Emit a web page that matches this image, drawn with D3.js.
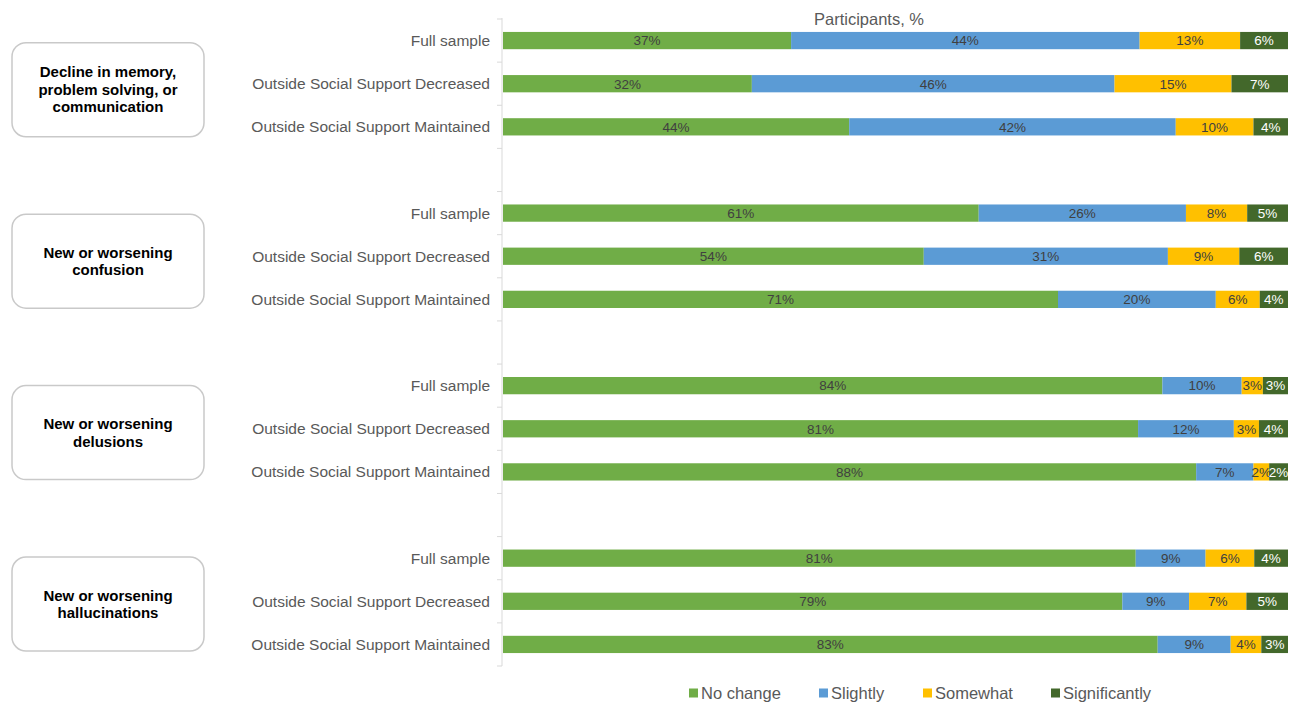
<!DOCTYPE html>
<html><head><meta charset="utf-8">
<script src="https://cdn.jsdelivr.net/npm/d3@7"></script>
<style>body{margin:0;background:#fff}svg{display:block;font-family:"Liberation Sans",Arial,sans-serif}</style>
</head><body>
<script>
const groupLabels = [
  ["Decline in memory,","problem solving, or","communication"],
  ["New or worsening","confusion"],
  ["New or worsening","delusions"],
  ["New or worsening","hallucinations"]
];
const subgroups = ["Full sample","Outside Social Support Decreased","Outside Social Support Maintained"];
const seriesNames = ["No change","Slightly","Somewhat","Significantly"];
const seriesColors = ["#70AD47","#5B9BD5","#FFC000","#43682B"];
// values per row: group order, then subgroup order
const noChange      = [36.7,31.7,44.1, 60.6,53.6,70.7, 84.0,80.9,88.3, 80.6,78.9,83.4];
const slightly      = [44.4,46.2,41.6, 26.4,31.1,20.1, 10.1,12.2, 7.3,  8.9, 8.5, 9.3];
const somewhat      = [12.8,14.9, 9.9,  7.8, 9.1, 5.6,  2.7, 3.2, 2.0,  6.2, 7.3, 3.9];
const significantly = [ 6.1, 7.2, 4.4,  5.2, 6.2, 3.6,  3.2, 3.7, 2.4,  4.3, 5.3, 3.4];
const axisTitle = "Participants, %";

const W=1297,H=704;
const svg=d3.select("body").append("svg").attr("width",W).attr("height",H);

// rows incl. blank spacer rows
const rows=[];
groupLabels.forEach((g,gi)=>{
  subgroups.forEach((s,si)=>rows.push({id:`r${gi}-${si}`,label:s,gi,idx:gi*3+si}));
  if(gi<groupLabels.length-1) rows.push({id:`blank${gi}`,label:"",gi,idx:-1});
});
const y=d3.scaleBand().domain(rows.map(r=>r.id)).range([19,666]).paddingInner(0.6).paddingOuter(0.3);
const x=d3.scaleLinear().domain([0,100]).range([503,1288]);
const x0=502;

// axis line and ticks at band boundaries
svg.append("line").attr("x1",x0).attr("x2",x0).attr("y1",18).attr("y2",666).attr("stroke","#d9d9d9");
const step=y.step();
d3.range(rows.length+1).forEach(i=>{
  const yy=y(rows[0].id)-y.paddingOuter()*step+i*step;
  svg.append("line").attr("x1",x0-5).attr("x2",x0).attr("y1",yy).attr("y2",yy).attr("stroke","#d9d9d9");
});

// category labels
svg.append("g").selectAll("text").data(rows.filter(r=>r.label)).join("text")
  .attr("x",490).attr("y",d=>y(d.id)+y.bandwidth()/2).attr("dy","0.35em")
  .attr("text-anchor","end").attr("font-size",15.5).attr("fill","#595959").text(d=>d.label);

// stacked bars
const seriesVals=[noChange,slightly,somewhat,significantly];
const dataRows=rows.filter(r=>r.idx>=0).map(r=>{
  const o={id:r.id};seriesNames.forEach((n,k)=>o[n]=seriesVals[k][r.idx]);return o;});
const stack=d3.stack().keys(seriesNames)(dataRows);
const layers=svg.append("g").selectAll("g").data(stack).join("g").attr("fill",(d,i)=>seriesColors[i]);
layers.selectAll("rect").data(d=>d).join("rect")
  .attr("x",d=>x(d[0])).attr("width",d=>x(d[1])-x(d[0]))
  .attr("y",d=>y(d.data.id)).attr("height",y.bandwidth());
const lbl=svg.append("g").selectAll("g").data(stack).join("g")
  .attr("fill",(d,i)=>i===3?"#ffffff":"#404040");
lbl.selectAll("text").data(d=>d).join("text")
  .attr("x",d=>(x(d[0])+x(d[1]))/2).attr("y",d=>y(d.data.id)+y.bandwidth()/2).attr("dy","0.36em")
  .attr("text-anchor","middle").attr("font-size",13.5).text(d=>Math.round(d[1]-d[0])+"%");

// axis title
svg.append("text").attr("x",869).attr("y",25).attr("text-anchor","middle").attr("font-size",16.5).attr("fill","#595959").text(axisTitle);

// group boxes
groupLabels.forEach((lines,gi)=>{
  const top=y(`r${gi}-0`), bot=y(`r${gi}-2`)+y.bandwidth();
  const cy=(top+bot)/2+6-gi*1.1;
  svg.append("rect").attr("x",12).attr("y",cy-47).attr("width",192).attr("height",94).attr("rx",14)
    .attr("fill","#fff").attr("stroke","#c9c9c9").attr("stroke-width",1.5);
  const lh=17.5;
  svg.append("text").attr("text-anchor","middle").attr("font-size",15).attr("font-weight","bold").attr("fill","#000")
    .selectAll("tspan").data(lines).join("tspan").attr("x",108)
    .attr("y",(d,i)=>cy+(i-(lines.length-1)/2)*lh).attr("dy","0.35em").text(d=>d);
});

// legend
const legX=[689,819,923,1051];
const leg=svg.append("g").selectAll("g").data(seriesNames).join("g").attr("transform",(d,i)=>`translate(${legX[i]},693)`);
leg.append("rect").attr("x",0).attr("y",-4.5).attr("width",9).attr("height",9).attr("fill",(d,i)=>seriesColors[i]);
leg.append("text").attr("x",12).attr("dy","0.35em").attr("font-size",16.5).attr("fill","#595959").text(d=>d);
</script>
</body></html>
